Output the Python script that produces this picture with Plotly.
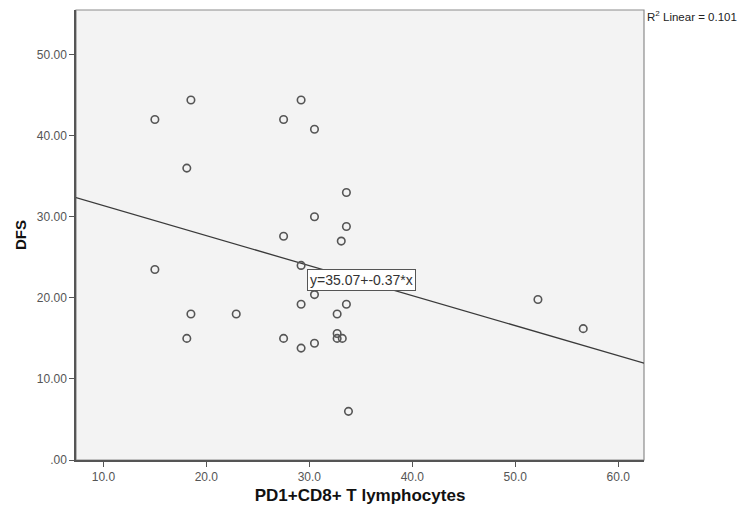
import plotly.graph_objects as go

# PD1+CD8+ T lymphocytes (x) vs DFS (y)
pd1_cd8 = [15.0, 18.5, 27.5, 29.2, 30.5, 18.1, 33.6, 30.5, 33.6, 27.5,
           33.1, 15.0, 29.2, 30.5, 29.2, 33.6, 18.5, 22.9, 32.7, 18.1,
           27.5, 32.7, 32.7, 33.2, 29.2, 30.5, 33.8, 52.2, 56.6]
dfs = [42.0, 44.4, 42.0, 44.4, 40.8, 36.0, 33.0, 30.0, 28.8, 27.6,
       27.0, 23.5, 24.0, 20.4, 19.2, 19.2, 18.0, 18.0, 18.0, 15.0,
       15.0, 15.6, 15.0, 15.0, 13.8, 14.4, 6.0, 19.8, 16.2]

# fitted line y = a + b*x as printed on the chart
intercept = 35.07
slope = -0.37
r2_text = "R<sup>2</sup> Linear = 0.101"
eq_text = "y=35.07+-0.37*x"

x_ticks = [10, 20, 30, 40, 50, 60]
x_ticktext = ["10.0", "20.0", "30.0", "40.0", "50.0", "60.0"]
y_ticks = [0, 10, 20, 30, 40, 50]
y_ticktext = [".00", "10.00", "20.00", "30.00", "40.00", "50.00"]

x_range = [7.34, 62.5]
y_range = [0, 55.5]

FONT = "Arial, Liberation Sans, sans-serif"

fig = go.Figure()

# regression line across the full x extent
line_x = list(x_range)
line_y = [intercept + slope * v for v in line_x]
fig.add_trace(go.Scatter(x=line_x, y=line_y, mode="lines",
                         line=dict(color="#3a3a3a", width=1.3),
                         hoverinfo="skip", showlegend=False))

fig.add_trace(go.Scatter(x=pd1_cd8, y=dfs, mode="markers",
                         marker=dict(symbol="circle-open", size=7.5, color="#555555",
                                     line=dict(width=1.6)),
                         showlegend=False))

# equation label sitting on the line
fig.add_annotation(x=35.09, y=22.2, xref="x", yref="y", text=eq_text,
                   showarrow=False, bgcolor="white", bordercolor="#555555",
                   borderwidth=1, borderpad=2,
                   font=dict(family=FONT, size=14, color="#333"))

fig.add_annotation(x=1.0, y=0.987, xref="paper", yref="paper", text=r2_text,
                   xanchor="left", yanchor="middle", xshift=1, showarrow=False,
                   font=dict(family=FONT, size=11.5, color="#222"))

# light frame on top/right, darker axis lines left/bottom
fig.add_shape(type="rect", xref="paper", yref="paper", x0=0, y0=0, x1=1, y1=1,
              line=dict(color="#8c8c8c", width=1.2), layer="below")

tick_font = dict(family=FONT, size=12, color="#555555")

# page has an 8px body margin, so the figure is sized to sit inside 750x513
fig.update_layout(
    width=734, height=497,
    margin=dict(l=68, r=98, t=2, b=45),
    plot_bgcolor="#f3f3f3", paper_bgcolor="white",
    xaxis=dict(range=x_range, tickvals=x_ticks, ticktext=x_ticktext,
               ticks="outside", ticklen=5, tickcolor="#555555",
               showgrid=False, zeroline=False, showline=True,
               linecolor="#555555", linewidth=1.5, tickfont=tick_font,
               title=dict(text="<b>PD1+CD8+ T lymphocytes</b>",
                          font=dict(family=FONT, size=17, color="#111"),
                          standoff=6)),
    yaxis=dict(range=y_range, tickvals=y_ticks, ticktext=y_ticktext,
               ticks="outside", ticklen=5, tickcolor="#555555",
               showgrid=False, zeroline=False, showline=True,
               linecolor="#555555", linewidth=1.5, tickfont=tick_font,
               title=dict(text="<b>DFS</b>",
                          font=dict(family=FONT, size=15, color="#111"),
                          standoff=7)),
)

fig.write_html("out.html")
